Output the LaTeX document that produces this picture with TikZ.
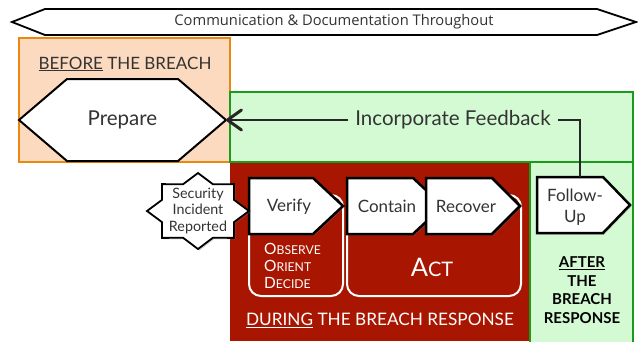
\documentclass[tikz,border=0pt]{standalone}
\usepackage{fontspec}
\setmainfont{Lato}
\newfontfamily\bannerfont{Open Sans}
\usetikzlibrary{arrows.meta,shadows,calc}
\definecolor{peach}{HTML}{FCDAC0}
\definecolor{orangeline}{HTML}{E8880F}
\definecolor{mint}{HTML}{D4FAD4}
\definecolor{greenline}{HTML}{1C9A1C}
\definecolor{brick}{HTML}{A81500}
\definecolor{ink}{HTML}{333333}
\pgfdeclarelayer{zones}
\pgfdeclarelayer{shapes}
\pgfsetlayers{zones,shapes,main}
% fake small caps: large initial, smaller rest
\newcommand\capsA[4]{{\fontsize{#1}{#1}\selectfont #3}{\fontsize{#2}{#2}\selectfont #4}}
% arrow-like tag drawn around a rectangular body node
\newcommand\tagshape[2]{%
  \filldraw[tagstyle] (#1.north west) -- (#1.north east) -- ($(#1.east)+(#2,0)$)
    -- (#1.south east) -- (#1.south west) -- cycle;}
\tikzset{
  body/.style={inner sep=0pt, outer sep=0pt, rectangle},
  tagstyle/.style={fill=white, draw=black, line width=2.5pt, line join=miter,
    drop shadow={opacity=0.3, shadow xshift=1.5pt, shadow yshift=-1.5pt}},
  tagtext/.style={text=ink, font=\fontsize{17}{21}\selectfont, align=center, inner sep=0pt},
  zonebox/.style={line width=2pt},
  roundbox/.style={draw=white, fill=brick, line width=2pt, rounded corners=12pt},
  feedline/.style={line width=1.6pt, draw=black!85}
}
\begin{document}
\begin{tikzpicture}[x=1pt, y=-1pt]
\useasboundingbox (0,0) rectangle (638,341);

% phase zones
\begin{pgfonlayer}{zones}
  \filldraw[zonebox, fill=peach, draw=orangeline] (19,38) rectangle (230,162);
  \filldraw[zonebox, fill=mint, draw=greenline] (230,92) rectangle (633,162);
  \fill[brick] (230,163) rectangle (530,341);
  \filldraw[zonebox, fill=mint, draw=greenline] (530,162) rectangle (633,346);
\end{pgfonlayer}

% banner across the top
\node[body, minimum width=552pt, minimum height=26pt] (banner) at (321,22) {};
\begin{pgfonlayer}{shapes}
  \filldraw[fill=white, draw=black, line width=1.8pt] (banner.north west) -- (banner.north east)
    -- ($(banner.east)+(39,0)$) -- (banner.south east) -- (banner.south west)
    -- ($(banner.west)+(-33,0)$) -- cycle;
\end{pgfonlayer}
\node[text=ink, font=\bannerfont\fontsize{14.7}{17}\selectfont] (bannertext) at (334,22)
  {Communication \& Documentation Throughout};

% before the breach
\node[text=ink, font=\fontsize{17}{20}\selectfont] (before) at (125,64)
  {\underline{BEFORE} THE BREACH};
\node[body, minimum width=207pt, minimum height=82pt, text=ink,
  font=\fontsize{20.5}{24}\selectfont] (prepare) at (122.5,120) {Prepare};
\begin{pgfonlayer}{shapes}
  \filldraw[fill=white, draw=black, line width=2pt, line join=miter]
    (prepare.west) -- ($(prepare.north west)+(48,0)$) -- ($(prepare.north east)+(-48,0)$)
    -- (prepare.east) -- ($(prepare.south east)+(-48,0)$) -- ($(prepare.south west)+(48,0)$)
    -- cycle;
\end{pgfonlayer}

% during the breach
\node[body] (verify) at (281,206) [minimum width=64pt, minimum height=56pt] {};
\node[body] (contain) at (380,206) [minimum width=66pt, minimum height=56pt] {};
\node[body] (recover) at (459,206) [minimum width=66pt, minimum height=56pt] {};
\node[body] (follow) at (570,205) [minimum width=66pt, minimum height=56pt] {};
\begin{pgfonlayer}{shapes}
  \draw[roundbox] (249,195) rectangle (343,296);
  \draw[roundbox] (347,195) rectangle (521,296);
  \tagshape{verify}{30}
  \tagshape{contain}{30}
  \tagshape{recover}{28}
  \tagshape{follow}{27}
  % reported-incident starburst
  \filldraw[fill=white, draw=black, line width=1.8pt, line join=miter,
    drop shadow={opacity=0.3, shadow xshift=1.5pt, shadow yshift=-1.5pt}]
    (198,211) ++(0:51 and 38)
    \foreach \a in {0,45,...,315} { -- ($(198,211)+(\a+22.5:39 and 29)$) -- ($(198,211)+(\a+45:51 and 38)$) }
    -- cycle;
\end{pgfonlayer}
\node[tagtext] (verifytext) at (289,207) {Verify};
\node[tagtext] (containtext) at (387,206) {Contain};
\node[tagtext] (recovertext) at (466,206) {Recover};
\node[tagtext] (followtext) at (575,207) {Follow-\\Up};
\node[text=ink, font=\fontsize{14.3}{16.5}\selectfont, align=center, inner sep=0pt]
  (incident) at (198,211) {Security\\Incident\\Reported};

\node[text=white, align=left, anchor=west, inner sep=0pt] (ood) at (264,266)
  {\capsA{15.5}{12.2}{O}{BSERVE}\\[5pt]\capsA{15.5}{12.2}{O}{RIENT}\\[5pt]\capsA{15.5}{12.2}{D}{ECIDE}};
\node[text=white, inner sep=0pt] (act) at (432,267) {\capsA{25.5}{20}{A}{CT}};
\node[text=white, font=\fontsize{17.2}{20}\selectfont] (during) at (380,320)
  {\underline{DURING} THE BREACH RESPONSE};

% after the breach
\node[text=black, font=\bfseries\fontsize{15}{18.5}\selectfont, align=center] (after) at (582,290)
  {\underline{AFTER}\\THE\\BREACH\\RESPONSE};

% feedback loop
\node[text=ink, font=\fontsize{20.5}{24}\selectfont, inner xsep=7pt] (feedback) at (453,120)
  {Incorporate Feedback};
\draw[feedline] ($(follow.north)+(10,0)$) |- (feedback.east);
\draw[feedline, -{Straight Barb[length=14pt, width=20pt, line width=3pt, round]}]
  (feedback.west) -- (prepare.east);
\end{tikzpicture}
\end{document}
